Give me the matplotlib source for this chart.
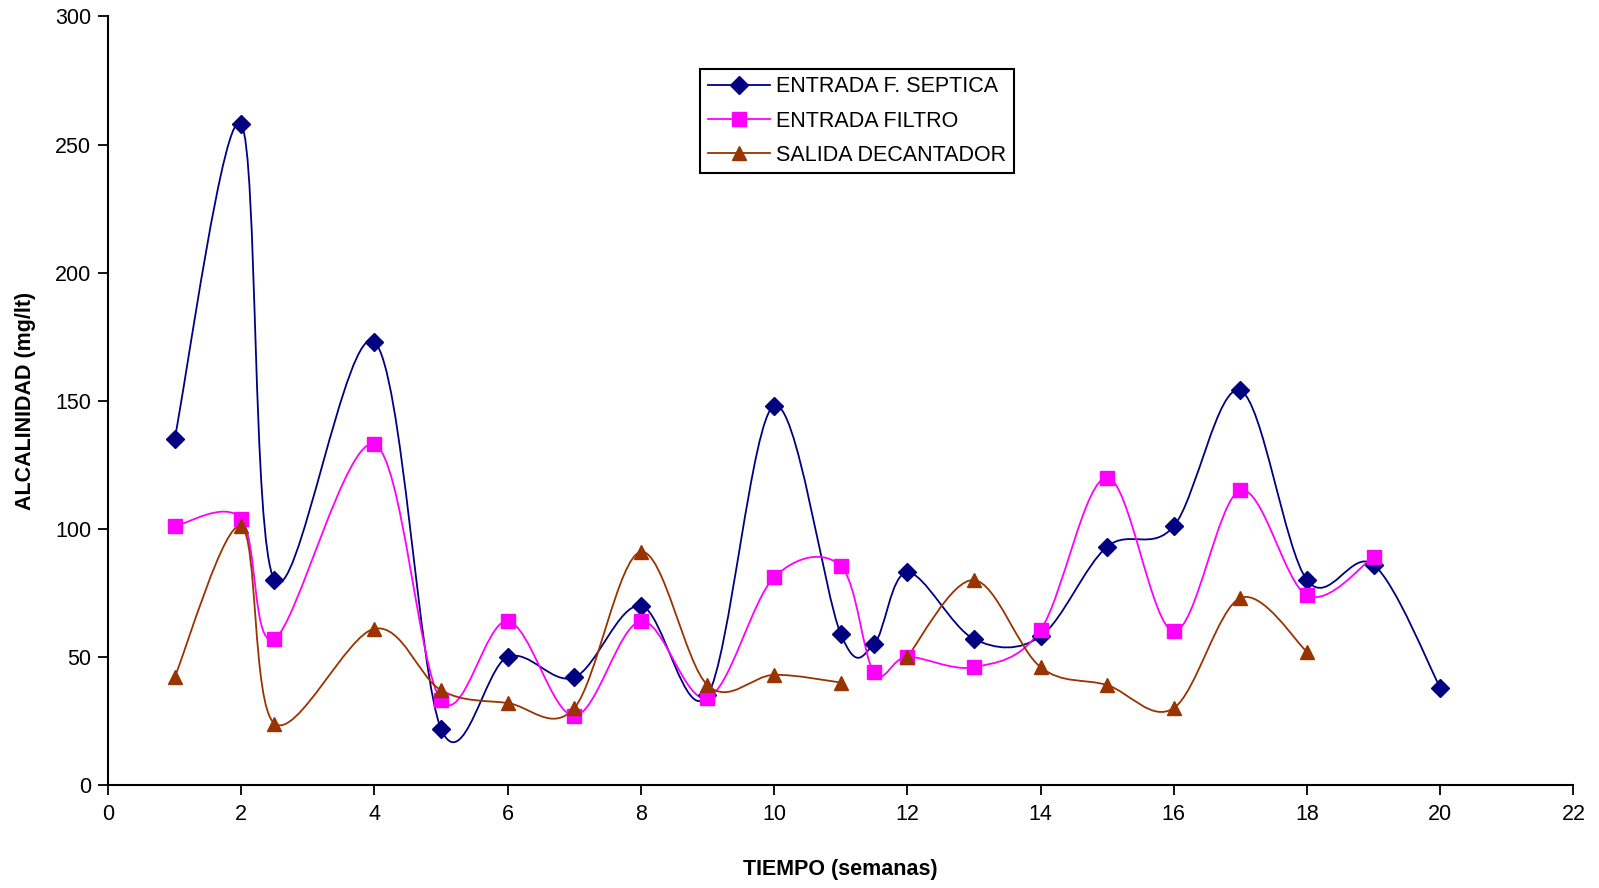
import numpy as np
import matplotlib.pyplot as plt
from matplotlib.path import Path
from matplotlib.patches import PathPatch
from matplotlib.lines import Line2D

plt.rcParams['font.family'] = ['Liberation Sans', 'DejaVu Sans']

semanas = [1, 2, 2.5, 4, 5, 6, 7, 8, 9, 10, 11, 11.5, 12, 13, 14, 15, 16, 17, 18, 19, 20]
entrada_septica = [135, 258, 80, 173, 22, 50, 42, 70, 35, 148, 59, 55, 83, 57, 58, 93, 101, 154, 80, 86, 38]
entrada_filtro = [101, 104, 57, 133, 33, 64, 27, 64, 34, 81, 85.5, 44, 50, 46, 60.5, 120, 60, 115, 74, 89, np.nan]
salida_decantador = [42, 101, 24, 61, 37, 32, 30, 91, 39, 43, 40, np.nan, 50, 80, 46, 39, 30, 73, 52, np.nan, np.nan]

series = [
    ('ENTRADA F. SEPTICA', entrada_septica, '#000080', 'D', 9),
    ('ENTRADA FILTRO', entrada_filtro, '#FF00FF', 's', 10),
    ('SALIDA DECANTADOR', salida_decantador, '#993300', '^', 10),
]


def smooth_path(x, y):
    # bezier through the points, like the spreadsheet "smoothed line"
    pts = np.column_stack([x, y])
    n = len(pts)
    verts = [pts[0]]
    codes = [Path.MOVETO]
    for i in range(n - 1):
        p0 = pts[i - 1] if i > 0 else pts[i]
        p1 = pts[i]
        p2 = pts[i + 1]
        p3 = pts[i + 2] if i + 2 < n else pts[i + 1]
        c1 = p1 + (p2 - p0) / 6.0
        c2 = p2 - (p3 - p1) / 6.0
        verts += [c1, c2, p2]
        codes += [Path.CURVE4] * 3
    return Path(verts, codes)


fig = plt.figure(figsize=(15.99, 8.88), dpi=100)
ax = fig.add_axes([0.0675, 0.116, 0.9165, 0.8655])

handles = []
for name, vals, color, marker, ms in series:
    x = np.array(semanas, dtype=float)
    y = np.array(vals, dtype=float)
    ok = ~np.isnan(y)
    # split into runs without gaps
    idx = np.where(ok)[0]
    runs = np.split(idx, np.where(np.diff(idx) > 1)[0] + 1)
    for r in runs:
        if len(r) > 1:
            ax.add_patch(PathPatch(smooth_path(x[r], y[r]), facecolor='none',
                                   edgecolor=color, lw=1.3, zorder=2))
    ax.plot(x[ok], y[ok], ls='none', marker=marker, ms=ms, color=color, zorder=3)
    handles.append(Line2D([], [], color=color, lw=1.3, marker=marker, ms=ms, label=name))

ax.set_xlim(0, 22)
ax.set_ylim(0, 300)
ax.set_xticks(range(0, 23, 2))
ax.set_yticks(range(0, 301, 50))
ax.tick_params(direction='out', length=7, width=1.3, labelsize=15.5, pad=7)
ax.tick_params(axis='y', pad=5)
for s in ['top', 'right']:
    ax.spines[s].set_visible(False)
for s in ['left', 'bottom']:
    ax.spines[s].set_linewidth(1.5)

ax.set_xlabel('TIEMPO (semanas)', fontsize=15.5, fontweight='bold', labelpad=24)
ax.set_ylabel('ALCALINIDAD (mg/lt)', fontsize=15.5, fontweight='bold', labelpad=14)

leg = ax.legend(handles=handles, loc='upper left', bbox_to_anchor=(0.404, 0.932),
                borderaxespad=0, fontsize=15.5, fancybox=False, framealpha=1,
                edgecolor='black', handlelength=2.9, handletextpad=0.3,
                borderpad=0.35, labelspacing=0.62)
leg.get_frame().set_linewidth(1.5)

fig.savefig('out.png', dpi=100)
